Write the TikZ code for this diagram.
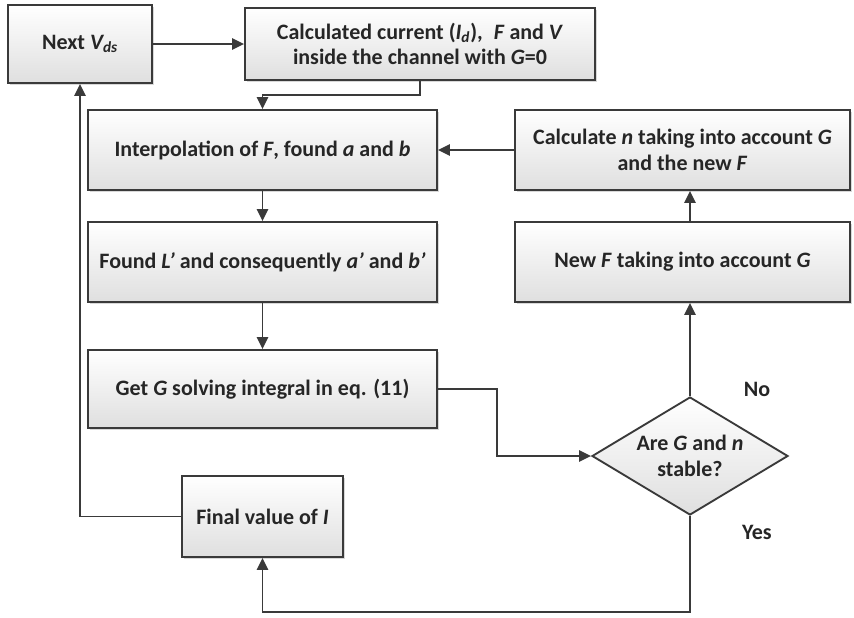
\documentclass[tikz,border=0pt]{standalone}
\usepackage{fontspec}
\setmainfont{Carlito}
\usepackage{tikz}
\usetikzlibrary{arrows.meta,positioning,shapes.geometric,calc,shadows}
\usepackage{xcolor}
\definecolor{boxline}{HTML}{3A3A3A}
\newcommand{\var}[1]{\textit{#1}}

\begin{document}
\begin{tikzpicture}[
    x=0.75pt, y=-0.75pt,
    box/.style={draw=boxline, line width=1.4pt, top color=white, bottom color=gray!25,
                drop shadow={shadow xshift=1.5pt, shadow yshift=-1.5pt, fill=gray!60, opacity=0.5},
                minimum height=60pt, minimum width=261.75pt, align=center, inner sep=2pt},
    decision/.style={diamond, aspect=1.66, draw=boxline, line width=1.4pt, top color=white, bottom color=gray!25,
                minimum width=147pt, minimum height=88.5pt, inner sep=0pt, align=center},
    arrow/.style={-{Triangle[length=9pt,width=8.5pt]}, line width=1.2pt, draw=boxline},
    every node/.style={font=\fontsize{16.5}{19}\selectfont\bfseries, text=black!85}
  ]
    \useasboundingbox (0,0) rectangle (854,618);

    % Top row
    \node[box, minimum width=108pt, minimum height=58.5pt] (next) at (80,44)
      {Next \var{V\textsubscript{ds}}};
    \node[box, minimum width=262.5pt, minimum height=54pt] (calc) at (420,44)
      {Calculated current (\var{I\textsubscript{d}}),\enspace \var{F} and \var{V}\\
       inside the channel with \var{G}=0};

    % Left column
    \node[box] (interp) at (262.5,150) {Interpolation of \var{F}, found \var{a} and \var{b}};
    \node[box] (found) at (262.5,262) {Found \var{L’} and consequently \var{a’} and \var{b’}};
    \node[box, minimum height=58.5pt] (getG) at (262.5,389) {Get \var{G} solving integral in eq. (11)};
    \node[box, minimum width=120.75pt, minimum height=60.75pt] (final) at (262.5,516.5)
      {Final value of \var{I}};

    % Right column
    \node[box, minimum width=251.25pt] (calcn) at (682.5,150)
      {Calculate \var{n} taking into account \var{G}\\and the new \var{F}};
    \node[box, minimum width=251.25pt] (newF) at (682.5,262)
      {New \var{F} taking into account \var{G}};
    \node[decision] (stable) at (690,456) {Are \var{G} and \var{n}\\stable?};

    % Labels
    \node (no) at (757,389) {No};
    \node (yes) at (757,532) {Yes};

    % Arrows
    \draw[arrow] (next) -- (calc);
    \draw[arrow] (calc.south) -- ++(0,14) -| (interp.north);
    \draw[arrow] (calcn) -- (interp);
    \draw[arrow] (interp) -- (found);
    \draw[arrow] (found) -- (getG);
    \draw[arrow] (getG.east) -- ++(59,0) |- (stable.west);
    \draw[arrow] (stable.north) -- (stable.north |- newF.south);
    \draw[arrow] (stable.north |- newF.north) -- (stable.north |- calcn.south);
    \draw[arrow] (stable.south) -- (stable.south |- 0,612) -| (final.south);
    \draw[arrow] (final.west) -| (next.south);
  \end{tikzpicture}
\end{document}
